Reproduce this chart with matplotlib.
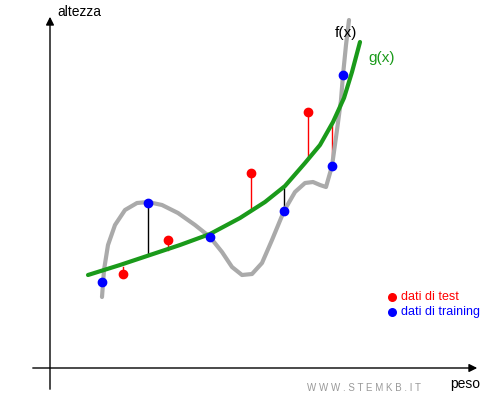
import matplotlib
matplotlib.use("Agg")
import matplotlib.pyplot as plt

train_x = [102, 148, 210, 284, 332, 343]
train_y = [282, 203, 237, 211, 166, 75]
test_x = [123, 168, 251, 308]
test_y = [274, 240, 173, 112]
f_x = [102, 104, 108, 115, 125, 137, 148, 162, 178, 195, 210, 222, 232, 242, 252, 262, 272, 284, 295, 305, 313, 320, 326, 332, 337, 341, 343, 346, 349]
f_y = [297, 270, 245, 225, 210, 203, 202, 205, 213, 225, 237, 252, 267, 275, 274, 263, 240, 211, 192, 183, 182, 185, 187, 166, 130, 100, 75, 45, 20]
g_x = [88, 120, 150, 180, 210, 240, 265, 285, 305, 320, 333, 344, 352, 360]
g_y = [275, 265, 255, 245, 234, 218, 202, 186, 163, 145, 122, 98, 72, 42]
# residual segments: (x, point y, curve y, colour)
res_x = [123, 168, 251, 308, 148, 284, 332]
res_y0 = [274, 240, 173, 112, 203, 211, 166]
res_y1 = [267, 250, 209, 158, 254, 186, 124]
res_c = ['red', 'red', 'red', 'red', 'black', 'black', 'red']

fig = plt.figure(figsize=(5, 4), dpi=100)
ax = fig.add_axes([0, 0, 1, 1])
ax.set_xlim(0, 500); ax.set_ylim(400, 0); ax.axis('off')

ax.annotate('', xy=(50, 14), xytext=(50, 392), arrowprops=dict(arrowstyle='-|>', color='black', lw=1, mutation_scale=12))
ax.annotate('', xy=(480, 368), xytext=(30, 368), arrowprops=dict(arrowstyle='-|>', color='black', lw=1, mutation_scale=12))

ax.plot(f_x, f_y, color='#aaaaaa', lw=3, solid_capstyle='round', zorder=2)
ax.plot(g_x, g_y, color='#1a9a1a', lw=3, solid_capstyle='round', zorder=3)
for x, a, b, c in zip(res_x, res_y0, res_y1, res_c):
    ax.plot([x, x], [a, b], color=c, lw=1, zorder=1)
ax.scatter(test_x, test_y, s=36, color='red', zorder=5)
ax.scatter(train_x, train_y, s=36, color='blue', zorder=5)

ax.text(57, 12, 'altezza', fontsize=10, family='Liberation Sans', va='center')
ax.text(450, 384, 'peso', fontsize=10, family='Liberation Sans', va='center')
ax.text(335, 33, 'f(x)', fontsize=11, family='Liberation Sans', va='center')
ax.text(368, 58, 'g(x)', fontsize=11, family='Liberation Sans', va='center', color='#1a9a1a')
ax.scatter([392], [297], s=30, color='red')
ax.scatter([392], [312], s=30, color='blue')
ax.text(401, 297, 'dati di test', fontsize=9, family='Liberation Sans', va='center', color='red')
ax.text(401, 312, 'dati di training', fontsize=9, family='Liberation Sans', va='center', color='blue')
ax.text(307, 388, 'W W W . S T E M K B . I T', fontsize=7, family='Liberation Sans', va='center', color='#999999')

fig.savefig('out.png', dpi=100)
